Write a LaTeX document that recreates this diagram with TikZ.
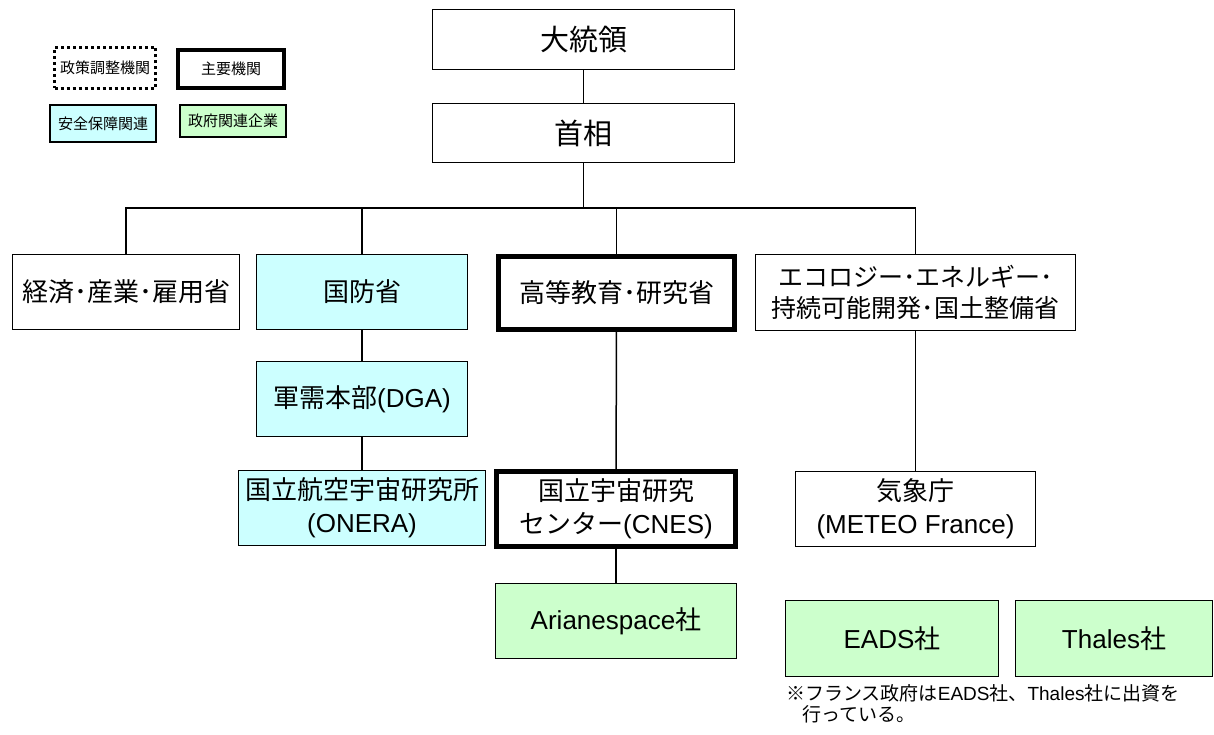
\documentclass[tikz,border=0pt]{standalone}
\usepackage{fontspec}
\setmainfont{Noto Sans CJK JP}
\newfontfamily\lat{Liberation Sans}
\definecolor{secfill}{HTML}{CCFFFF}
\definecolor{corpfill}{HTML}{CCFFCC}

\begin{document}
\begin{tikzpicture}[x=1pt,y=-1pt,
    box/.style={draw,line width=1.5pt,inner sep=0pt,align=center,font=\fontsize{26}{33}\selectfont},
    topbox/.style={box,font=\fontsize{29}{33}\selectfont},
    mainbox/.style={box,line width=5pt},
    sec/.style={box,fill=secfill},
    corp/.style={box,fill=corpfill},
    legend/.style={draw,inner sep=0pt,font=\fontsize{15}{18}\selectfont},
    link/.style={line width=1.5pt}]
    \useasboundingbox (0,0) rectangle (1214,735);

    % legend
    \node[legend,line width=3pt,dash pattern=on 3pt off 3pt,minimum width=101pt,minimum height=41pt] (lgpol) at (105,68) {政策調整機関};
    \node[legend,line width=4pt,minimum width=106pt,minimum height=38pt] (lgmain) at (231,69) {主要機関};
    \node[legend,line width=2pt,fill=secfill,minimum width=106pt,minimum height=37pt] (lgsec) at (103,123.5) {安全保障関連};
    \node[legend,line width=2pt,fill=corpfill,minimum width=106pt,minimum height=32pt] (lgcorp) at (233,121) {政府関連企業};

    \node[topbox,minimum width=302pt,minimum height=60pt] (pres) at (583.5,39.5) {大統領};
    \node[topbox,minimum width=302pt,minimum height=59pt] (pm) at (583.5,133) {首相};
    \coordinate (bus) at (583.5,208);

    \node[box,minimum width=227pt,minimum height=75pt] (econ) at (126,292) {経済･産業･雇用省};
    \node[sec,minimum width=211pt,minimum height=75pt] (mod) at (362,292) {国防省};
    \node[mainbox,minimum width=236pt,minimum height=73pt] (edu) at (616.5,293) {高等教育･研究省};
    \node[box,minimum width=320pt,minimum height=76pt,font=\fontsize{25}{31}\selectfont] (eco) at (915.5,292.5) {エコロジー･エネルギー･\\持続可能開発･国土整備省};

    \node[sec,minimum width=211pt,minimum height=75pt] (dga) at (362,399) {軍需本部{\lat (DGA)}};
    \node[sec,minimum width=247pt,minimum height=75pt] (onera) at (362,508) {国立航空宇宙研究所\\{\lat (ONERA)}};
    \node[mainbox,minimum width=239pt,minimum height=75pt] (cnes) at (616,509) {国立宇宙研究\\センター{\lat (CNES)}};
    \node[box,minimum width=240pt,minimum height=75pt] (meteo) at (915.5,509) {気象庁\\{\lat (METEO France)}};

    \node[corp,minimum width=241pt,minimum height=75pt] (ariane) at (616,621) {{\lat Arianespace}社};
    \node[corp,minimum width=213pt,minimum height=76pt] (eads) at (892,638.5) {{\lat EADS}社};
    \node[corp,minimum width=197pt,minimum height=76pt] (thales) at (1114,638.5) {{\lat Thales}社};

    \node[anchor=west,align=left,inner sep=0pt,font=\fontsize{19}{21}\selectfont] (note) at (786,704)
        {※フランス政府は{\lat EADS}社、{\lat Thales}社に出資を\\\hspace{0.85em}行っている。};

    \draw[link] (pres.south) -- (pm.north);
    \draw[link] (pm.south) -- (bus);
    \draw[link] (econ.north) |- (bus);
    \draw[link] (mod.north) |- (bus);
    \draw[link] (edu.north) |- (bus);
    \draw[link] (eco.north) |- (bus);

    \draw[link] (mod) -- (dga);
    \draw[link] (dga) -- (onera);
    \draw[link] (edu) -- (cnes);
    \draw[link] (cnes) -- (ariane);
    \draw[link] (eco) -- (meteo);

\end{tikzpicture}
\end{document}
